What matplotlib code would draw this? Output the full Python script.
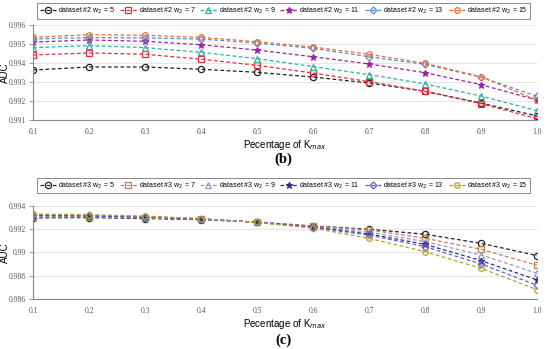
import matplotlib
matplotlib.use("Agg")
import matplotlib.pyplot as plt

# Dados
k_frac = [0.1, 0.2, 0.3, 0.4, 0.5, 0.6, 0.7, 0.8, 0.9, 1.0]
w2_vals = [5, 7, 9, 11, 13, 15]

auc_ds2_w5 = [0.99363, 0.99379, 0.99379, 0.99367, 0.99351, 0.99326, 0.99295, 0.99251, 0.99189, 0.99121]
auc_ds2_w7 = [0.99442, 0.99453, 0.99446, 0.99420, 0.99388, 0.99347, 0.99302, 0.99251, 0.99186, 0.99107]
auc_ds2_w9 = [0.99481, 0.99491, 0.99481, 0.99456, 0.99423, 0.99381, 0.99339, 0.99290, 0.99226, 0.99149]
auc_ds2_w11 = [0.99510, 0.99521, 0.99514, 0.99496, 0.99468, 0.99433, 0.99395, 0.99349, 0.99286, 0.99205]
auc_ds2_w13 = [0.99526, 0.99534, 0.99532, 0.99526, 0.99505, 0.99477, 0.99433, 0.99393, 0.99325, 0.99225]
auc_ds2_w15 = [0.99535, 0.99549, 0.99546, 0.99535, 0.99512, 0.99484, 0.99446, 0.99398, 0.99328, 0.99204]

auc_ds3_w5 = [0.99297, 0.99300, 0.99292, 0.99282, 0.99262, 0.99228, 0.99200, 0.99157, 0.99079, 0.98973]
auc_ds3_w7 = [0.99305, 0.99306, 0.99298, 0.99285, 0.99262, 0.99225, 0.99194, 0.99122, 0.99028, 0.98890]
auc_ds3_w9 = [0.99312, 0.99312, 0.99302, 0.99287, 0.99261, 0.99222, 0.99176, 0.99093, 0.98979, 0.98821]
auc_ds3_w11 = [0.99318, 0.99316, 0.99306, 0.99289, 0.99260, 0.99218, 0.99159, 0.99070, 0.98930, 0.98764]
auc_ds3_w13 = [0.99324, 0.99320, 0.99309, 0.99290, 0.99259, 0.99214, 0.99150, 0.99050, 0.98901, 0.98718]
auc_ds3_w15 = [0.99331, 0.99325, 0.99313, 0.99292, 0.99258, 0.99210, 0.99122, 0.99007, 0.98864, 0.98680]

# estilo de cada serie
cores_b = ["#222222", "#e0303a", "#30b0a0", "#a020a0", "#5a8ad0", "#e8703a"]
cores_c = ["#222222", "#c08040", "#8aa0c8", "#3a2a8a", "#6060d0", "#b8a030"]
cores_c_linha = ["#222222", "#e07070", "#8aa0c8", "#3a2a8a", "#6060d0", "#b8a030"]
marcadores = ["o", "s", "^", "*", "D", "o"]
tamanhos = [4.5, 4, 4.5, 4.5, 3.5, 4]

fig = plt.figure(figsize=(5.5, 3.49), dpi=100)
ax_b = fig.add_axes([0.06, 0.6562, 0.9164, 0.2722])
ax_c = fig.add_axes([0.06, 0.1433, 0.9164, 0.2665])


def desenha(ax, series, ds, cores, cores_linha, ylim, yticks, ylabels, leg_y):
    for i, (w, y) in enumerate(zip(w2_vals, series)):
        fc = cores[i] if marcadores[i] == "*" else "none"
        ax.plot(k_frac, y, linestyle="--", dashes=(3, 2), linewidth=0.9,
                color=cores_linha[i], marker=marcadores[i], markersize=tamanhos[i],
                markerfacecolor=fc, markeredgecolor=cores[i], markeredgewidth=0.9,
                label=f"dataset #{ds} w$_2$ = {w}")
    ax.set_xlim(0.1, 1.0)
    ax.set_ylim(*ylim)
    ax.set_xticks(k_frac)
    ax.set_xticklabels([f"{v:.1f}" for v in k_frac], family="Liberation Serif", fontsize=5.5)
    ax.set_yticks(yticks)
    ax.set_yticklabels(ylabels, family="Liberation Serif", fontsize=5.5)
    ax.grid(axis="y", color="#e6e6e6", linewidth=0.8)
    ax.set_axisbelow(True)
    for s in ["top", "right"]:
        ax.spines[s].set_visible(False)
    for s in ["left", "bottom"]:
        ax.spines[s].set_color("#888888")
        ax.spines[s].set_linewidth(0.8)
    ax.tick_params(colors="#888888", labelcolor="#555555", length=3, width=0.6)
    ax.tick_params(axis="y", pad=2)
    ax.tick_params(axis="x", length=0, pad=6)
    ax.set_ylabel("AUC", family="Liberation Sans", fontsize=7)
    ax.yaxis.set_label_coords(-0.046, 0.5)
    ax.set_xlabel("Pecentage of K$_{max}$", family="Liberation Sans", fontsize=7, labelpad=1)
    leg = fig.legend(loc="center", bbox_to_anchor=(0.516, leg_y), ncol=6,
                     prop={"family": "Liberation Sans", "size": 5},
                     handlelength=2.4, handletextpad=0.3, columnspacing=0.7,
                     borderpad=0.35, fancybox=False, edgecolor="#777777",
                     framealpha=1, handles=ax.get_lines())
    leg.get_frame().set_linewidth(0.6)


desenha(ax_b, [auc_ds2_w5, auc_ds2_w7, auc_ds2_w9, auc_ds2_w11, auc_ds2_w13, auc_ds2_w15],
        2, cores_b, cores_b, (0.991, 0.996),
        [0.991, 0.992, 0.993, 0.994, 0.995, 0.996],
        ["0.991", "0.992", "0.993", "0.994", "0.995", "0.996"], 0.9685)
desenha(ax_c, [auc_ds3_w5, auc_ds3_w7, auc_ds3_w9, auc_ds3_w11, auc_ds3_w13, auc_ds3_w15],
        3, cores_c, cores_c_linha, (0.986, 0.994),
        [0.986, 0.988, 0.990, 0.992, 0.994],
        ["0.986", "0.988", "0.99", "0.992", "0.994"], 0.4685)

fig.text(0.516, 0.545, "(b)", ha="center", va="center", family="Liberation Serif",
         fontsize=10.5, fontweight="bold")
fig.text(0.516, 0.026, "(c)", ha="center", va="center", family="Liberation Serif",
         fontsize=10.5, fontweight="bold")

fig.savefig("out.png", dpi=100, facecolor="white")
